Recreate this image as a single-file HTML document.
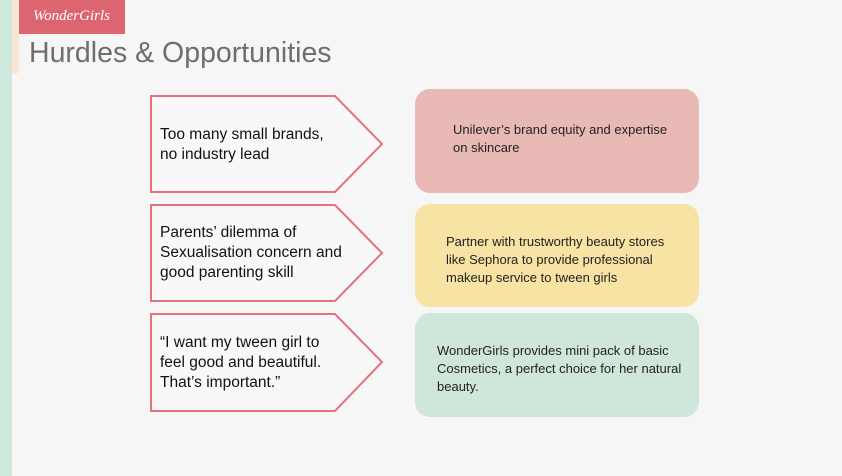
<!DOCTYPE html>
<html><head><style>
body{margin:0;width:842px;height:476px;background:#f6f6f6;position:relative;overflow:hidden;font-family:"Liberation Sans",sans-serif}
div{position:absolute}
.box{left:415px;width:284px;border-radius:15px;font-size:13px;color:#222;line-height:18px;box-sizing:border-box}
.ht{left:160px;font-size:15.5px;color:#111;line-height:20px}
</style></head><body>
<div style="left:0;top:0;width:12px;height:476px;background:#cfe8dc"></div>
<div style="left:12px;top:0;width:7px;height:73px;background:#fbe6d6"></div>
<div style="left:19px;top:0;width:106px;height:34px;background:#dd6571;color:#fff;font-family:'Liberation Serif',serif;font-style:italic;font-size:15px;line-height:32px;padding-left:14px;box-sizing:border-box">WonderGirls</div>
<div style="left:29px;top:37px;font-size:28.5px;color:#6e6e6e">Hurdles &amp; Opportunities</div>
<svg style="position:absolute;left:0;top:0" width="842" height="476">
<polygon points="151,96 335,96 382,144 335,192 151,192" fill="#f8f8f8" stroke="#e3737b" stroke-width="2"/>
<polygon points="151,205 335,205 382,253 335,301 151,301" fill="#f8f8f8" stroke="#e3737b" stroke-width="2"/>
<polygon points="151,314 335,314 382,362 335,411 151,411" fill="#f8f8f8" stroke="#e3737b" stroke-width="2"/>
</svg>
<div class="ht" style="top:125px">Too many small brands,<br>no industry lead</div>
<div class="ht" style="top:223px">Parents’ dilemma of<br>Sexualisation concern and<br>good parenting skill</div>
<div class="ht" style="top:333px">“I want my tween girl to<br>feel good and beautiful.<br>That’s important.”</div>
<div class="box" style="top:89px;height:104px;background:#e8b9b5;padding:32px 0 0 38px">Unilever’s brand equity and expertise<br>on skincare</div>
<div class="box" style="top:204px;height:103px;background:#f7e3a3;padding:29px 0 0 31px">Partner with trustworthy beauty stores<br>like Sephora to provide professional<br>makeup service to tween girls</div>
<div class="box" style="top:313px;height:104px;background:#cfe7da;padding:29px 0 0 22px">WonderGirls provides mini pack of basic<br>Cosmetics, a perfect choice for her natural<br>beauty.</div>
</body></html>
